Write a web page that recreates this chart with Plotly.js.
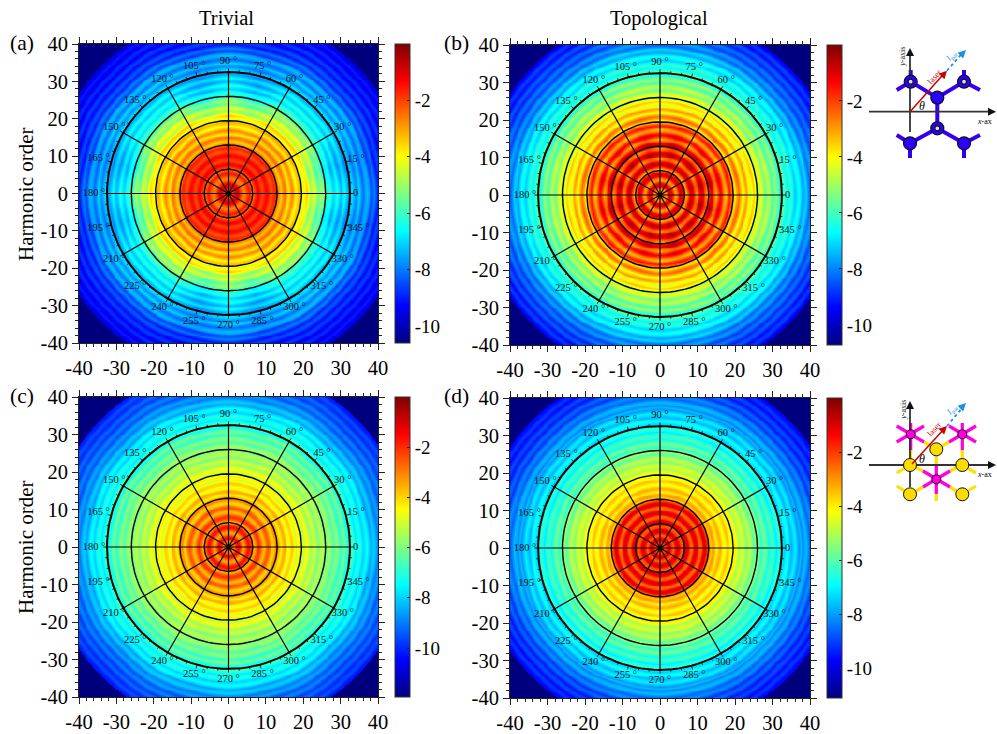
<!DOCTYPE html>
<html><head><meta charset="utf-8">
<script src="https://cdn.plot.ly/plotly-3.0.1.min.js"></script>
<style>html,body{margin:0;padding:0;background:#fff}</style></head>
<body><div id="chart" style="width:997px;height:734px"></div>
<script>
// ---------- values ----------
// log-intensity against harmonic order, one entry per half order from 0 to 48
var profileA=[-1.0,-1.4,-2.0,-1.6,-1.1,-1.0,-1.6,-2.3,-2.7,-2.5,-2.0,-1.5,-2.0,-2.5,-1.9,-1.4,-1.2,-1.6,-2.0,-1.7,-1.3,-1.4,-1.9,-2.1,-1.7,-1.6,-2.3,-2.8,-3.4,-2.8,-2.4,-3.0,-3.7,-3.1,-2.6,-3.2,-3.9,-3.4,-3.0,-3.5,-4.2,-3.7,-3.4,-4.1,-4.9,-4.4,-4.0,-4.7,-5.5,-5.0,-4.8,-5.5,-6.3,-6.2,-5.9,-6.4,-7.0,-6.7,-6.2,-6.8,-7.3,-6.9,-6.5,-7.0,-7.5,-7.2,-6.9,-7.3,-7.8,-7.4,-7.0,-7.7,-8.1,-7.6,-7.3,-7.6,-8.5,-8.3,-7.9,-8.5,-9.0,-8.5,-8.4,-8.9,-9.2,-8.8,-8.6,-9.1,-9.4,-9.0,-8.8,-9.2,-9.6,-9.2,-9.0,-9.4,-9.7];
var profileB=[-0.9,-1.6,-2.8,-3.2,-2.0,-1.1,-1.1,-2.0,-3.1,-2.8,-1.5,-1.0,-1.4,-2.6,-3.2,-2.2,-1.1,-1.0,-1.8,-2.9,-2.8,-1.5,-1.1,-1.4,-2.6,-3.0,-2.0,-1.2,-1.5,-2.7,-3.2,-2.2,-1.4,-1.9,-3.0,-3.4,-2.4,-1.7,-2.4,-3.4,-3.9,-3.0,-2.6,-3.4,-4.3,-3.7,-3.1,-3.8,-4.6,-4.0,-3.6,-4.4,-5.1,-4.7,-4.3,-5.0,-5.7,-5.1,-4.8,-5.5,-6.2,-5.6,-5.2,-5.9,-6.5,-6.2,-5.9,-6.4,-6.9,-6.5,-6.2,-6.9,-7.3,-6.9,-6.6,-7.1,-7.8,-7.5,-7.2,-7.9,-8.4,-8.0,-7.8,-8.4,-8.8,-8.4,-8.2,-8.7,-9.1,-8.7,-8.5,-9.0,-9.4,-9.0,-8.8,-9.2,-9.6];
var profileC=[-0.9,-1.6,-2.8,-3.0,-2.0,-1.4,-1.9,-3.0,-3.5,-2.7,-1.8,-1.6,-2.3,-3.3,-3.4,-2.5,-2.0,-2.4,-3.3,-3.7,-2.9,-2.4,-2.9,-3.8,-3.9,-3.1,-3.0,-3.7,-4.3,-3.7,-3.4,-4.1,-4.8,-4.1,-3.8,-4.3,-5.0,-4.5,-4.2,-4.7,-5.3,-4.7,-4.5,-5.1,-5.7,-5.2,-4.9,-5.5,-6.1,-5.5,-5.2,-5.7,-6.3,-5.8,-5.5,-6.0,-6.6,-6.1,-5.8,-6.4,-7.0,-6.4,-6.1,-6.7,-7.3,-6.9,-6.6,-7.2,-7.7,-7.3,-7.0,-7.5,-8.0,-7.6,-7.4,-7.9,-8.6,-8.2,-8.0,-8.5,-9.0,-8.7,-8.5,-9.1,-9.5,-9.1,-8.9,-9.4,-9.8,-9.4,-9.2,-9.7,-10.0,-9.7,-9.5,-9.9,-10.2];
var profileD=[-0.7,-1.3,-2.4,-2.0,-1.0,-0.9,-1.8,-2.5,-1.6,-0.9,-1.2,-2.2,-2.4,-1.4,-0.9,-1.3,-2.4,-2.5,-1.3,-1.0,-1.6,-2.6,-2.4,-1.2,-1.1,-2.0,-2.9,-3.6,-3.1,-3.4,-4.1,-3.6,-3.3,-3.9,-4.4,-3.9,-3.5,-4.0,-4.5,-4.2,-4.0,-4.6,-5.2,-4.8,-4.5,-5.0,-5.6,-5.1,-4.9,-5.5,-6.0,-5.5,-5.3,-5.9,-6.5,-6.0,-5.7,-6.3,-6.9,-6.4,-6.1,-6.7,-7.2,-6.7,-6.4,-7.0,-7.5,-7.1,-6.8,-7.3,-7.8,-7.4,-7.1,-7.6,-8.1,-7.7,-8.3,-7.9,-7.7,-8.2,-8.7,-8.4,-8.2,-8.7,-9.2,-8.8,-8.6,-9.1,-9.5,-9.1,-8.9,-9.3,-9.7,-9.3,-9.1,-9.5,-9.7];
// angular change per quadrant at 0,15,...,90 degrees
var sectorA=[0,-0.7,0,0.1,0,-0.7,0];
var sectorB=[0,0.9,0,0.8,0,0.9,0];
var sectorC=[0,-0.2,0.1,-0.2,0.1,-0.2,0];
var sectorD=[0,0.2,-0.1,0.2,-0.1,0.2,0];
// weight of that change at harmonic orders 0,6,...,48
var ringA=[0,0,0.2,0.3,1,0.8,0.3,0.3,0.3];
var ringB=[0.2,0.2,1,0.4,0.3,0.3,0.2,0.2,0.2];
var ringC=[0,0,0.5,0.5,0.5,0.5,0.5,0.3,0.3];
var ringD=[0,0,0.5,0.5,0.5,0.5,0.5,0.3,0.3];
// slight ring distortion (in orders) at 0,15,...,90 degrees, full size at order 40
var ringWarp=[0,0.2,-0.15,0.2,-0.15,0.2,0];
var scaleMins=[-10.6,-10.72,-11.95,-11.1];
var axisTicks=[-40,-30,-20,-10,0,10,20,30,40];
var axisLabels=["-40","-30","-20","-10","0","10","20","30","40"];
var barTicks=[-2,-4,-6,-8,-10];
var barLabels=["-2","-4","-6","-8","-10"];
var gridRadii=[6.5,13,19.5,26,32.5];
var spokeAngles=[0,30,60,90,120,150,180,210,240,270,300,330];
var angleLabels=[0,15,30,45,60,75,90,105,120,135,150,165,180,195,210,225,240,255,270,285,300,315,330,345];
var panelLetters=["(a)","(b)","(c)","(d)"];
var columnTitles=["Trivial","Topological"];
var rowTitle="Harmonic order";
// schematic (drawn on its own small axes)
var hollowAtoms1=[[910.7,81.7],[964,81.7],[937.3,128.3]];
var solidAtoms1=[[937.3,97.7],[910,143.3],[964,143.3]];
var bonds1=[[[910.7,70],[910.7,81.7],[937.3,97.7],[964,81.7],[964,70]],[[896.7,90],[910.7,81.7]],[[964,81.7],[980,90]],[[937.3,97.7],[937.3,128.3]],[[896.7,135],[910,143.3],[937.3,128.3],[964,143.3],[980,135]],[[910,143.3],[910,158]],[[964,143.3],[964,158]]];
var pinkAtoms2=[[910.7,434.3],[962.3,434.3],[936.3,479.3]];
var yellowAtoms2=[[936.3,449.3],[910,465],[962.3,465],[910,494.3],[962.3,494.3]];
var pinkBonds2=[[[896.7,426],[924,442]],[[896.7,442],[924,426]],[[910.7,423],[910.7,450]],[[949,426],[976,442]],[[949,442],[976,426]],[[962.3,423],[962.3,450]],[[923,471],[950,487]],[[923,487],[950,471]],[[936.3,465],[936.3,494]]];
var yellowBonds2=[[[924,442],[936.3,449.3],[949,442]],[[936.3,449.3],[936.3,465]],[[910.7,450],[910,465]],[[962.3,450],[962.3,465]],[[896.7,473],[910,465],[923,471]],[[950,471],[962.3,465],[976,473]],[[896.7,486],[910,494.3],[923,487]],[[950,487],[962.3,494.3],[976,486]],[[936.3,494],[936.3,501]]];

// ---------- layout helpers ----------
var W=997,H=734;
function fx(p){return p/W;} function fy(p){return 1-p/H;}
var boxes=[{x0:79,x1:378,y0:44,y1:343,cb:395},{x0:510,x1:810,y0:45,y1:345,cb:826.5},
           {x0:79,x1:378,y0:397,y1:697,cb:395},{x0:510,x1:810,y0:398,y1:698,cb:827}];
var profiles=[profileA,profileB,profileC,profileD],sectors=[sectorA,sectorB,sectorC,sectorD],rings=[ringA,ringB,ringC,ringD];
var jet=[[0,'#00007f'],[0.125,'#0000ff'],[0.375,'#00ffff'],[0.625,'#ffff00'],[0.875,'#ff0000'],[1,'#7f0000']];
var gridX=[];for(var i=0;i<=320;i++)gridX.push(-40+i*0.25);

function cellValue(k,x,y){
  var r=Math.sqrt(x*x+y*y);
  if(r>48.4)return scaleMins[k];
  var t=Math.atan2(Math.abs(y),Math.abs(x))*180/Math.PI/15,a=Math.floor(t),f=t-a,s=sectors[k];
  var warp=ringWarp[Math.min(a,6)]*(1-f)+ringWarp[Math.min(a+1,6)]*f;
  var p=profiles[k],u=Math.max(0,r+warp*Math.min(1,r/40))*2,i0=Math.floor(u),uf=u-i0,v=p[Math.min(i0,96)]*(1-uf)+p[Math.min(i0+1,96)]*uf;
  var sec=s[Math.min(a,6)]*(1-f)+s[Math.min(a+1,6)]*f;
  var q=r/6,b=Math.floor(q),g=q-b,w=rings[k];
  return v+sec*(w[Math.min(b,8)]*(1-g)+w[Math.min(b+1,8)]*g);
}
var traces=[],layout={width:W,height:H,margin:{l:0,r:0,t:0,b:0},paper_bgcolor:'#fff',plot_bgcolor:'#fff',showlegend:false,
  font:{family:'"Liberation Serif",serif',color:'#000'},annotations:[]};

boxes.forEach(function(b,k){
  var n=k+1,xa='x'+(n===1?'':n),ya='y'+(n===1?'':n);
  var z=gridX.map(function(y){return gridX.map(function(x){return cellValue(k,x,y);});});
  traces.push({type:'heatmap',x:gridX,y:gridX,z:z,xaxis:xa,yaxis:ya,zsmooth:'best',colorscale:jet,zmin:scaleMins[k],zmax:0,hoverinfo:'skip',
    colorbar:{x:fx(b.cb),xanchor:'left',y:fy(b.y0),yanchor:'top',lenmode:'pixels',len:b.y1-b.y0,thicknessmode:'pixels',thickness:15,xpad:0,ypad:0,
      tickmode:'array',tickvals:barTicks,ticktext:barLabels,ticks:'inside',ticklen:3,tickcolor:'#222',tickfont:{size:19,family:'"Liberation Serif",serif'},outlinewidth:1,outlinecolor:'#333'}});
  gridRadii.forEach(function(R,ri){
    var cx=[],cy=[];for(var d=0;d<=360;d+=3){cx.push(R*Math.cos(d*Math.PI/180));cy.push(R*Math.sin(d*Math.PI/180));}
    traces.push({type:'scatter',mode:'lines',x:cx,y:cy,xaxis:xa,yaxis:ya,hoverinfo:'skip',line:{color:'#000',width:ri===4?2:1.4}});
  });
  var sx=[],sy=[];spokeAngles.forEach(function(a){var c=Math.cos(a*Math.PI/180),s=Math.sin(a*Math.PI/180);sx.push(0,32.5*c,null);sy.push(0,32.5*s,null);});
  traces.push({type:'scatter',mode:'lines',x:sx,y:sy,xaxis:xa,yaxis:ya,hoverinfo:'skip',line:{color:'#000',width:1.2}});
  var tx=[],ty=[];for(var d=0;d<360;d+=5){var c=Math.cos(d*Math.PI/180),s=Math.sin(d*Math.PI/180),L=d%15===0?33.5:33.1;tx.push(32.5*c,L*c,null);ty.push(32.5*s,L*s,null);}
  traces.push({type:'scatter',mode:'lines',x:tx,y:ty,xaxis:xa,yaxis:ya,hoverinfo:'skip',line:{color:'#000',width:0.8}});
  var lx=[],ly=[],lt=[];angleLabels.forEach(function(a){var R=a===0?34:(a===180||a===195||a===345||a===165)?36:35.3;lx.push(R*Math.cos(a*Math.PI/180));ly.push(R*Math.sin(a*Math.PI/180));lt.push(a===0?'0':a+' °');});
  traces.push({type:'scatter',mode:'text',x:lx,y:ly,text:lt,textposition:'middle center',textfont:{size:10.5,color:'#111',family:'"Liberation Serif",serif'},xaxis:xa,yaxis:ya,hoverinfo:'skip',cliponaxis:false});
  var ax={domain:[fx(b.x0),fx(b.x1)],range:[-40,40],tickmode:'array',tickvals:axisTicks,ticktext:axisLabels,ticks:'outside',ticklen:6,tickwidth:1,tickcolor:'#222',
    showline:true,linecolor:'#222',linewidth:1,mirror:'ticks',showgrid:false,zeroline:false,tickfont:{size:20.5,family:'"Liberation Serif",serif'},
    minor:{tickmode:'linear',tick0:0,dtick:2,ticks:'outside',ticklen:3,tickwidth:1,tickcolor:'#222',showgrid:false},layer:'above traces'};
  layout['xaxis'+(n===1?'':n)]=Object.assign({},ax,{anchor:ya});
  layout['yaxis'+(n===1?'':n)]=Object.assign({},ax,{anchor:xa,domain:[fy(b.y1),fy(b.y0)]});
});
function insetAxes(idx,y0,y1){
  layout['xaxis'+idx]={domain:[fx(860),1],range:[860,997],visible:false,anchor:'y'+idx,fixedrange:true};
  layout['yaxis'+idx]={domain:[fy(y1),fy(y0)],range:[y1,y0],visible:false,anchor:'x'+idx,fixedrange:true};
}
insetAxes(5,30,170);insetAxes(6,390,520);
function poly(list,idx,color,width,dash){
  list.forEach(function(seg){traces.push({type:'scatter',mode:'lines',x:seg.map(function(p){return p[0];}),y:seg.map(function(p){return p[1];}),xaxis:'x'+idx,yaxis:'y'+idx,hoverinfo:'skip',line:{color:color,width:width,dash:dash||'solid'}});});
}
function atoms(list,idx,color,size,lw){traces.push({type:'scatter',mode:'markers',x:list.map(function(p){return p[0];}),y:list.map(function(p){return p[1];}),xaxis:'x'+idx,yaxis:'y'+idx,hoverinfo:'skip',marker:{color:color,size:size,line:{color:'#111',width:lw}}});}
function arrowHead(x,y,ax,ay,color,w){
  layout.annotations.push({xref:'paper',yref:'paper',x:fx(x),y:fy(y),ax:fx(ax),ay:fy(ay),axref:'paper',ayref:'paper',text:'',showarrow:true,arrowhead:2,arrowsize:1,arrowwidth:w,arrowcolor:color});
}
poly(bonds1,5,'#3300ee',4);
poly([[[869,111.7],[992,111.7]],[[910,132],[910,52]]],5,'#333',1.8);
atoms(solidAtoms1,5,'#2a00ff',13,1.2);
atoms(hollowAtoms1,5,'#2a00ff',13,1.2);
atoms(hollowAtoms1,5,'#ddd',5,1.2);
poly([[[910,111.7],[945,72.5]]],5,'#c80000',1.5);
poly([[[947,70.7],[963,52.5]]],5,'#1f8fe0',1.8,'dot');
poly(yellowBonds2,6,'#ffe000',3.2);
poly(pinkBonds2,6,'#ff00e0',3.2);
poly([[[869,465],[992,465]],[[910,487],[910,405]]],6,'#333',1.8);
atoms(yellowAtoms2,6,'#ffdc00',13,1);
atoms(pinkAtoms2,6,'#ff00dc',9,1);
poly([[[912,464],[945,428]]],6,'#c80000',1.5);
poly([[[947,426],[963,407]]],6,'#1f8fe0',1.8,'dot');
[[997,111.7,990,111.7,'#111'],[910,48,910,55,'#111'],[947,70.7,942,76,'#c80000'],[966,50,961,55,'#1f8fe0'],
 [997,465,990,465,'#111'],[910,401,910,408,'#111'],[947,426,942,431,'#c80000'],[966,403,961,408,'#1f8fe0']].forEach(function(a){arrowHead(a[0],a[1],a[2],a[3],a[4],1.6);});

function note(text,x,y,size,opts){layout.annotations.push(Object.assign({xref:'paper',yref:'paper',x:fx(x),y:fy(y),text:text,showarrow:false,xanchor:'center',yanchor:'middle',font:{size:size,family:'"Liberation Serif",serif',color:'#000'}},opts||{}));}
note(columnTitles[0],226.7,18,20.5);note(columnTitles[1],658.6,18,20.5);
note(rowTitle,26,194,21,{textangle:-90});note(rowTitle,26,547,21,{textangle:-90});
note(panelLetters[0],22,43,21.5);note(panelLetters[1],456,43,21.5);note(panelLetters[2],22,396,21.5);note(panelLetters[3],456,396,21.5);
[[902.7,57,-90,'#222',8,'<i>y</i>-axis'],[934,76.7,-48,'#c80000',8.5,'laser'],[951,57,-48,'#1f8fe0',8.5,'<i>I</i><sub>par</sub>'],
 [902.7,410,-90,'#222',8,'<i>y</i>-axis'],[934,429,-48,'#c80000',8.5,'laser'],[951,410,-48,'#1f8fe0',8.5,'<i>I</i><sub>par</sub>']].forEach(function(t){note(t[5],t[0],t[1],t[4],{textangle:t[2],font:{size:t[4],family:'"Liberation Serif",serif',color:t[3]}});});
note('<i>x</i>-ax',994,121.7,8,{xanchor:'right'});note('<i>x</i>-ax',994,475,8,{xanchor:'right'});
note('<i>θ</i>',922,106,12);note('<i>θ</i>',922,459,12);

Plotly.newPlot('chart',traces,layout,{displayModeBar:false,staticPlot:true});
</script></body></html>
